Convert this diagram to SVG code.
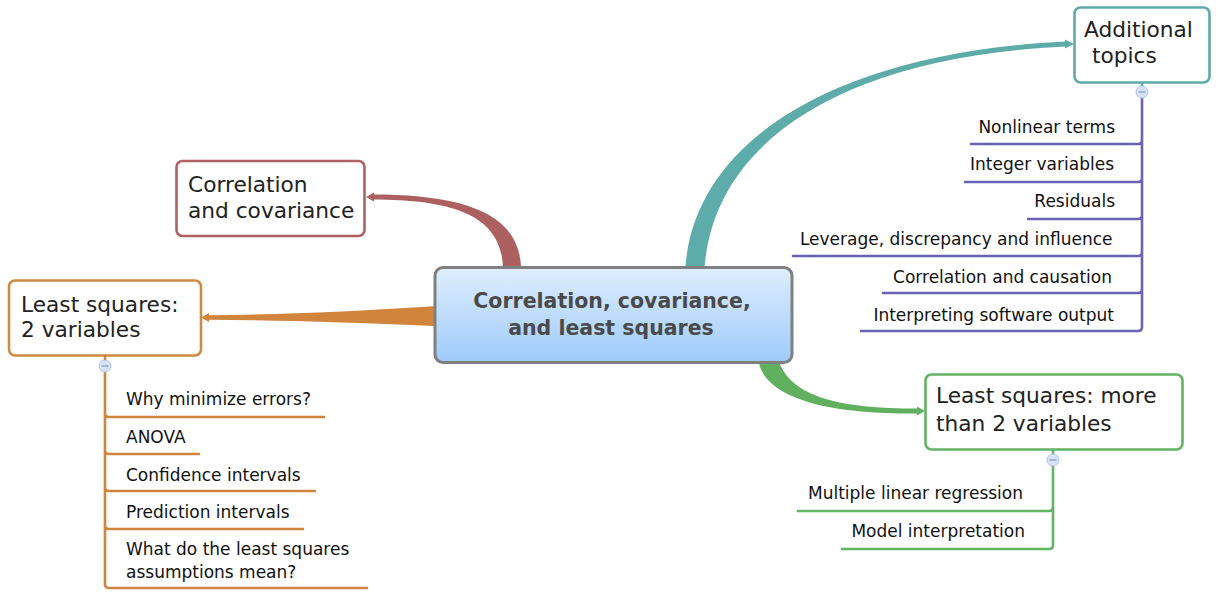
<svg xmlns="http://www.w3.org/2000/svg" width="1218" height="596" viewBox="0 0 1218 596">
<defs>
<linearGradient id="cg" x1="0" y1="0" x2="0" y2="1">
<stop offset="0" stop-color="#dfeefd"/>
<stop offset="1" stop-color="#9ecbfa"/>
</linearGradient>
<style>
.nt{font-family:"DejaVu Sans","Liberation Sans",sans-serif;font-size:21.7px;fill:#222}
.ct{font-family:"DejaVu Sans","Liberation Sans",sans-serif;font-size:20.5px;font-weight:bold;fill:#4a4a4a}
.st{font-family:"DejaVu Sans","Liberation Sans",sans-serif;font-size:17px;fill:#111}
.box{fill:#fff;stroke-width:2.6}
.sub{fill:none;stroke-width:2.6;stroke-linecap:round;stroke-linejoin:round}
.tog{fill:#d6e3f8;stroke:#aec3e8;stroke-width:1}
.togm{stroke:#8fa4c9;stroke-width:1.4}
</style>
</defs>
<rect width="1218" height="596" fill="#fff"/>
<g id="connectors">
<path d="M521,290 L521,267 C519,212 461,194.5 372,194.5 L372,199.5 C459,199.5 501,218 503,267 L503,290 Z" fill="#ad6060"/>
<polygon points="366,197 374,192.5 374,201.5" fill="#ad6060"/>
<path d="M685.5,290 L685.5,266 C696,138 839,52.5 1066,41.5 L1066,46.5 C841,57.5 714,142 704.5,268 L704.5,290 Z" fill="#5eaca9"/>
<polygon points="1074,44 1065,39.5 1065,48.5" fill="#5eaca9"/>
<path d="M758,340 L759.6,366.3 C773.5,403 840,414 918,413.5 L918,408.5 C840,408.5 790,397 778.4,359.7 L778,340 Z" fill="#60b060"/>
<polygon points="925,411 917,406.5 917,415.5" fill="#60b060"/>
<path d="M445,305.5 Q300,315 209,315.2 L209,319.8 Q300,320 445,326.5 Z" fill="#d0843c"/>
<polygon points="201,317.5 209,313 209,322" fill="#d0843c"/>
</g>
<g id="center">
<rect x="435" y="267.5" width="357" height="95" rx="8" fill="url(#cg)" stroke="#808080" stroke-width="3"/>
<text class="ct" x="612" y="308" text-anchor="middle">Correlation, covariance,</text>
<text class="ct" x="611" y="335" text-anchor="middle">and least squares</text>
</g>
<g id="corr-cov">
<rect class="box" x="176.5" y="161" width="188" height="75" rx="6" stroke="#b06262"/>
<text class="nt" x="188" y="192">Correlation</text>
<text class="nt" x="188" y="218">and covariance</text>
</g>
<g id="ls2">
<rect class="box" x="9" y="280.5" width="192" height="75" rx="6" stroke="#d08a43"/>
<text class="nt" x="21" y="312">Least squares:</text>
<text class="nt" x="21" y="337">2 variables</text>
<g id="ls2-subs">
<path class="sub" stroke="#d0843c" d="M105,356 V360 M105,372 V584 Q105,588 109,588 H367 M105,413 Q105,417 109,417 H324 M105,450 Q105,454 109,454 H199 M105,487 Q105,491 109,491 H315 M105,525 Q105,529 109,529 H303"/>
<circle class="tog" cx="105" cy="366" r="6"/>
<line class="togm" x1="101.5" y1="366" x2="108.5" y2="366"/>
<text class="st" x="126" y="405">Why minimize errors?</text>
<text class="st" x="126" y="443">ANOVA</text>
<text class="st" x="126" y="480.5">Confidence intervals</text>
<text class="st" x="126" y="517.5">Prediction intervals</text>
<text class="st" x="126" y="554.5">What do the least squares</text>
<text class="st" x="126" y="577.5">assumptions mean?</text>
</g>
</g>
<g id="additional">
<rect class="box" x="1074.5" y="7.5" width="135" height="75" rx="6" stroke="#5eaca9"/>
<text class="nt" x="1084" y="37">Additional</text>
<text class="nt" x="1092" y="63">topics</text>
<g id="additional-subs">
<line x1="1142" y1="82" x2="1142" y2="86" stroke="#5eaca9" stroke-width="2.6"/>
<path class="sub" stroke="#6a62b3" d="M1142,98 V327 Q1142,331 1138,331 H861 M1142,140 Q1142,144 1138,144 H971 M1142,178 Q1142,182 1138,182 H965 M1142,215 Q1142,219 1138,219 H1028 M1142,252 Q1142,256 1138,256 H793 M1142,289 Q1142,293 1138,293 H883"/>
<circle class="tog" cx="1142" cy="92" r="6"/>
<line class="togm" x1="1138.5" y1="92" x2="1145.5" y2="92"/>
<text class="st" x="1115" y="133.3" text-anchor="end">Nonlinear terms</text>
<text class="st" x="1114" y="170.3" text-anchor="end">Integer variables</text>
<text class="st" x="1115" y="207.3" text-anchor="end">Residuals</text>
<text class="st" x="1112.5" y="245" text-anchor="end">Leverage, discrepancy and influence</text>
<text class="st" x="1112" y="282.7" text-anchor="end">Correlation and causation</text>
<text class="st" x="1114" y="320.5" text-anchor="end">Interpreting software output</text>
</g>
</g>
<g id="ls-more">
<rect class="box" x="925.5" y="374.5" width="257" height="75" rx="6" stroke="#62b362"/>
<text class="nt" x="936" y="403">Least squares: more</text>
<text class="nt" x="936" y="431">than 2 variables</text>
<g id="ls-more-subs">
<path class="sub" stroke="#62b362" d="M1053,450 V454 M1053,466 V545 Q1053,549 1049,549 H842 M1053,507 Q1053,511 1049,511 H798"/>
<circle class="tog" cx="1053" cy="460" r="6"/>
<line class="togm" x1="1049.5" y1="460" x2="1056.5" y2="460"/>
<text class="st" x="1023" y="499" text-anchor="end">Multiple linear regression</text>
<text class="st" x="1025" y="537" text-anchor="end">Model interpretation</text>
</g>
</g>
</svg>
